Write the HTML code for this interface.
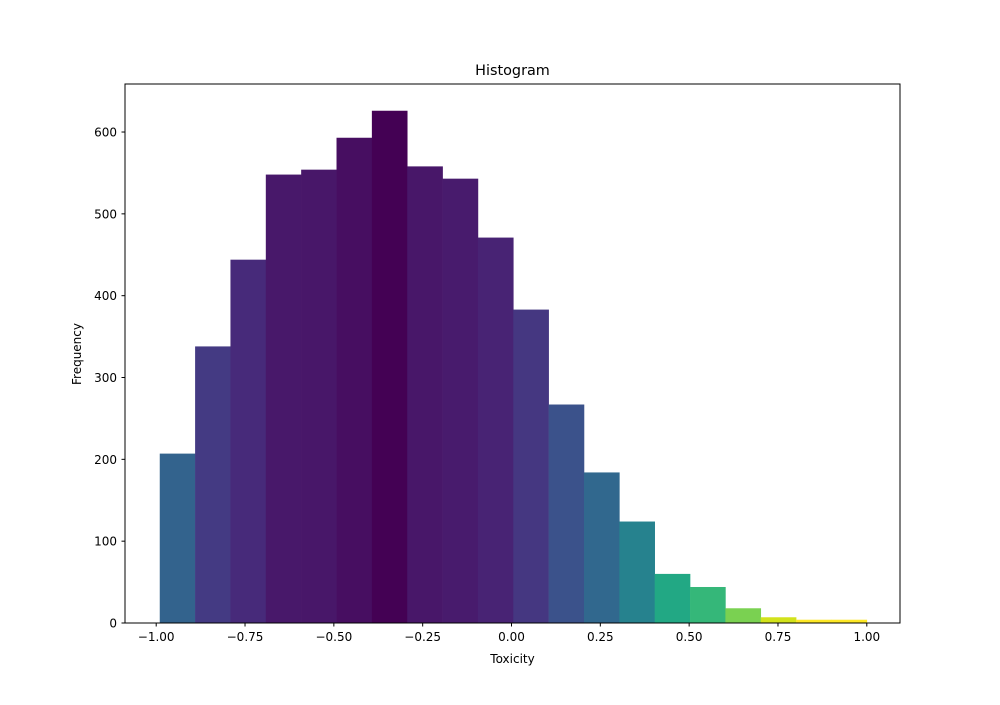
<!DOCTYPE html>
<html><head><meta charset="utf-8"><style>
body{margin:0;background:#fff;}
svg text{font-family:"DejaVu Sans","Liberation Sans",sans-serif;}
</style></head><body>
<svg id="chart" width="1000" height="700">
<rect width="1000" height="700" fill="#fff"/>
<text x="512.5" y="75" font-size="14.4" text-anchor="middle">Histogram</text>
<text x="512.5" y="663" font-size="12" text-anchor="middle">Toxicity</text>
<text transform="translate(81,354) rotate(-90)" font-size="12" text-anchor="middle">Frequency</text>
<g id="bars"></g><g id="ticks"></g>
<rect x="125" y="84" width="775" height="539" fill="none" stroke="#000" stroke-width="1"/>
</svg>
<script>
const binStart = -0.99;
const binWidth = 0.0995;
const freqs = [207, 338, 444, 548, 554, 593, 626, 558, 543, 471, 383, 267, 184, 124, 60, 44, 18, 7, 4, 4];
const colors = ["#33638d","#443a83","#472a7a","#48186a","#481769","#470e61","#440154","#481769","#481b6d","#482374","#453781","#3b528b","#31688e","#26828e","#22a884","#35b779","#7ad151","#d2e21b","#fde725","#fde725"];
const xTicks = [-1, -0.75, -0.5, -0.25, 0, 0.25, 0.5, 0.75, 1];
const yTicks = [0, 100, 200, 300, 400, 500, 600];
const X = v => 511.5 + v * 355.3;
const Y = v => 623 - v * 0.8183;
const NS = "http://www.w3.org/2000/svg";
const bars = document.getElementById('bars'), ticks = document.getElementById('ticks');
freqs.forEach((f, i) => {
  const r = document.createElementNS(NS, 'rect');
  const x0 = X(binStart + i * binWidth), x1 = X(binStart + (i + 1) * binWidth);
  r.setAttribute('x', x0); r.setAttribute('width', x1 - x0 + 0.3);
  r.setAttribute('y', Y(f)); r.setAttribute('height', Y(0) - Y(f));
  r.setAttribute('fill', colors[i]);
  
  
  bars.appendChild(r);
});
xTicks.forEach(t => {
  const l = document.createElementNS(NS, 'line');
  l.setAttribute('x1', X(t)); l.setAttribute('x2', X(t)); l.setAttribute('y1', 623); l.setAttribute('y2', 626.5);
  l.setAttribute('stroke', '#000');
  
  
  ticks.appendChild(l);
  const tx = document.createElementNS(NS, 'text');
  tx.setAttribute('x', X(t)); tx.setAttribute('y', 641); tx.setAttribute('font-size', '12'); tx.setAttribute('text-anchor', 'middle');
  tx.textContent = t.toFixed(2).replace('-', '\u2212');
  
  
  ticks.appendChild(tx);
});
yTicks.forEach(t => {
  const l = document.createElementNS(NS, 'line');
  l.setAttribute('x1', 121.5); l.setAttribute('x2', 125); l.setAttribute('y1', Y(t)); l.setAttribute('y2', Y(t));
  l.setAttribute('stroke', '#000');
  
  
  ticks.appendChild(l);
  const tx = document.createElementNS(NS, 'text');
  tx.setAttribute('x', 117); tx.setAttribute('y', Y(t) + 4.5); tx.setAttribute('font-size', '12'); tx.setAttribute('text-anchor', 'end');
  tx.textContent = t;
  
  
  ticks.appendChild(tx);
});
</script>
</body></html>
